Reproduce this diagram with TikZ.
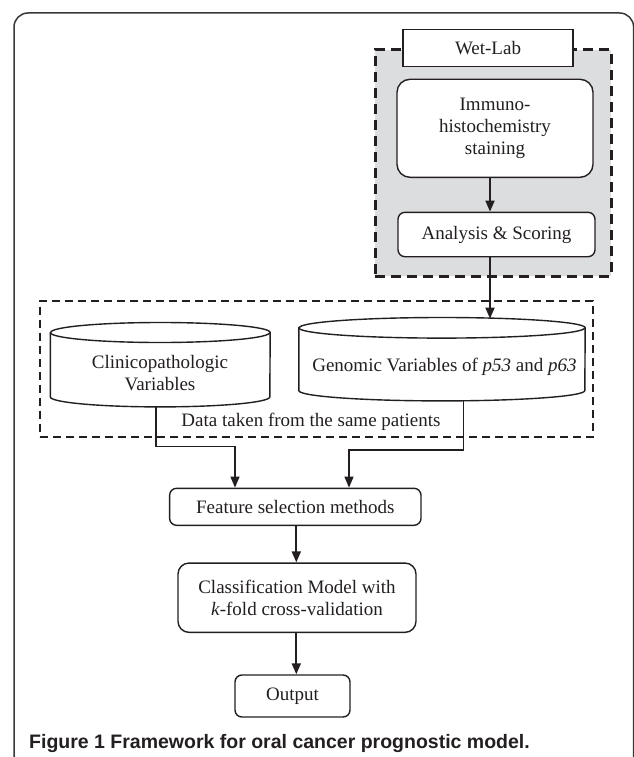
\documentclass[tikz,border=0pt]{standalone}
\usepackage{fontspec}
\setmainfont{Liberation Serif}
\newfontfamily\capfont{Liberation Sans}
\usetikzlibrary{arrows.meta,calc}
\definecolor{ink}{RGB}{35,31,32}
\definecolor{labgray}{RGB}{220,221,223}
\definecolor{framegray}{RGB}{55,55,55}
\begin{document}
\begin{tikzpicture}[x=1pt,y=1pt,
  every node/.style={font=\fontsize{19}{21.8}\selectfont, text=ink, align=center, inner sep=0pt},
  boxline/.style={draw=ink, line width=1.4pt},
  sqbox/.style={boxline, fill=white, rectangle},
  rbox/.style={boxline, fill=white, rectangle, rounded corners=#1},
  arr/.style={draw=ink, line width=1.9pt, -{Triangle[length=11pt,width=9pt]}},
  thinarr/.style={draw=ink, line width=1.4pt, -{Triangle[length=11pt,width=9pt]}},
  labregion/.style={draw=ink, fill=labgray, line width=3pt, dash pattern=on 10pt off 6pt, rectangle},
  dataregion/.style={draw=ink, line width=1.9pt, dash pattern=on 8pt off 5pt, rectangle},
  cylbody/.style={rectangle, minimum width=#1},
]
\useasboundingbox (0,0) rectangle (633,-757);

% outer frame
\draw[framegray, line width=1.5pt, rounded corners=14pt] (14,-820) -- (14,-13) -- (633.6,-13) -- (633.6,-820);

% wet-lab region
\node[labregion, minimum width=236pt, minimum height=226pt] (wetregion) at (493,-163) {};
\node[sqbox, minimum width=170pt, minimum height=37.4pt] (wetlab) at (488,-48) {Wet-Lab};
\node[rbox=13pt, minimum width=196pt, minimum height=98pt] (immuno) at (495,-128.3)
  {Immuno-\\histochemistry\\staining};
\node[rbox=7pt, minimum width=197pt, minimum height=44.4pt] (analysis) at (496.5,-234.5) {Analysis \& Scoring};

% data region
\node[dataregion, minimum width=553pt, minimum height=136pt] (datareg) at (316.5,-368.7) {};
\node (datatext) at (311,-421.7) {Data taken from the same patients};

% clinicopathologic cylinder
\node[cylbody=219.5pt, minimum height=84pt] (clin) at (160.25,-364.7) {};
\filldraw[boxline, fill=white]
  ([yshift=-10pt]clin.north west) -- ([yshift=10pt]clin.south west)
  arc[start angle=180, end angle=360, x radius=109.75pt, y radius=10pt]
  -- ([yshift=-10pt]clin.north east)
  arc[start angle=0, end angle=180, x radius=109.75pt, y radius=10pt] -- cycle;
\draw[boxline] ([yshift=-10pt]clin.north west)
  arc[start angle=180, end angle=360, x radius=109.75pt, y radius=10pt];
\node (clintext) at (160,-373.3) {Clinicopathologic\\Variables};

% genomic cylinder
\node[cylbody=286pt, minimum height=83pt] (gen) at (442,-359.2) {};
\filldraw[boxline, fill=white]
  ([yshift=-10.3pt]gen.north west) -- ([yshift=10.3pt]gen.south west)
  arc[start angle=180, end angle=360, x radius=143pt, y radius=10.3pt]
  -- ([yshift=-10.3pt]gen.north east)
  arc[start angle=0, end angle=180, x radius=143pt, y radius=10.3pt] -- cycle;
\draw[boxline] ([yshift=-10.3pt]gen.north west)
  arc[start angle=180, end angle=360, x radius=143pt, y radius=10.3pt];
\node (gentext) at (444.5,-367) {Genomic Variables of \textit{p53} and \textit{p63}};

% lower boxes
\node[rbox=7pt, minimum width=251.4pt, minimum height=37pt] (feature) at (295.3,-506.8) {Feature selection methods};
\node[rbox=11pt, minimum width=238pt, minimum height=69.3pt] (classif) at (297,-597.7)
  {Classification Model with\\\textit{k}-fold cross-validation};
\node[rbox=7pt, minimum width=115pt, minimum height=42pt] (output) at (292.5,-696) {Output};

% connectors
\coordinate (ax) at (490,0);
\coordinate (gentop) at (490,-318.6);
\draw[arr] (immuno.south -| ax) -- (analysis.north -| ax);
\draw[arr] (analysis.south -| ax) -- (gentop);

\coordinate (c1) at (155.8,-406.3);
\coordinate (c2) at (235,-446.7);
\draw[thinarr] (c1) |- (c2) -- (c2 |- feature.north);
\coordinate (g1) at (463.5,-400.4);
\coordinate (g2) at (349,-450);
\draw[thinarr] (g1) |- (g2) -- (g2 |- feature.north);

\coordinate (mx) at (296.3,0);
\draw[arr] (feature.south -| mx) -- (classif.north -| mx);
\draw[arr] (classif.south -| mx) -- (output.north -| mx);

% caption
\node[anchor=west, font=\capfont\bfseries\fontsize{19.5}{22}\selectfont] (caption) at (29,-743)
  {Figure 1 Framework for oral cancer prognostic model.};
\end{tikzpicture}
\end{document}
